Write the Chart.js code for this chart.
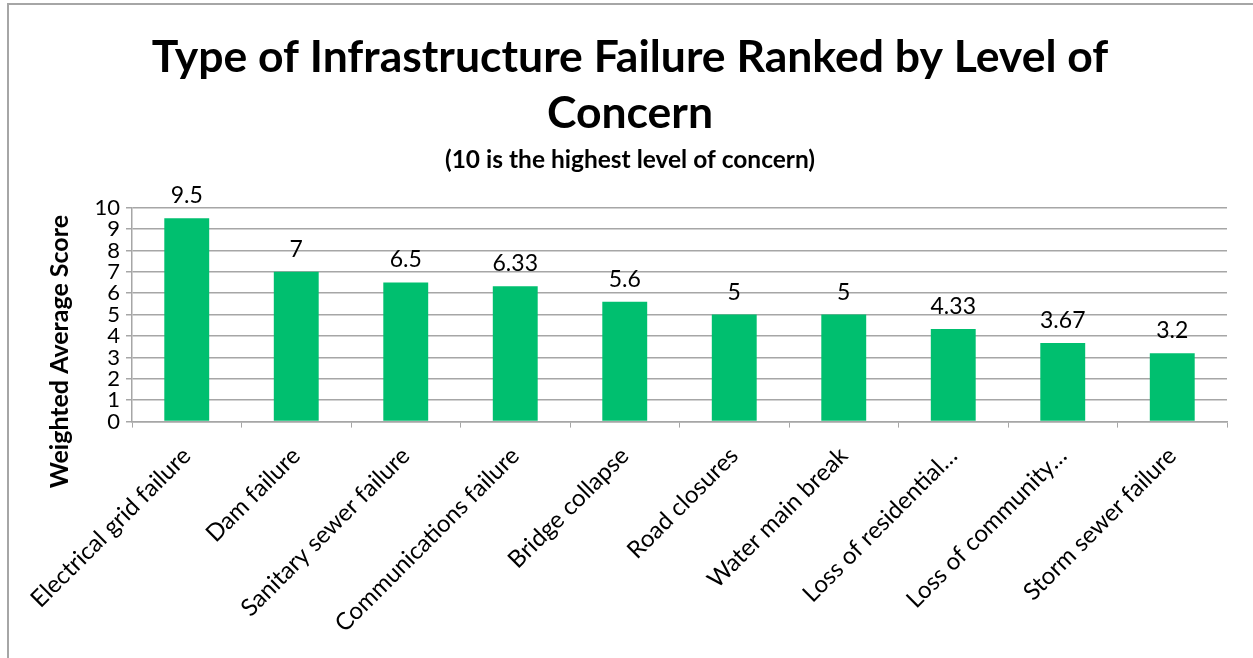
<!DOCTYPE html>
<html>
<head>
<meta charset="utf-8">
<script src="https://cdn.jsdelivr.net/npm/chart.js@4/dist/chart.umd.min.js"></script>
<style>
  body { margin: 0; background: #fff; }
  #caja {
    position: absolute; left: 7px; top: 3px; width: 1246px; height: 655px;
    border-left: 2px solid #a6a6a6; border-top: 2px solid #a6a6a6;
  }
</style>
</head>
<body>
<div id="caja"><canvas id="grafico"></canvas></div>
<script>
// datos
const categorias = ['Electrical grid failure', 'Dam failure', 'Sanitary sewer failure', 'Communications failure',
  'Bridge collapse', 'Road closures', 'Water main break', 'Loss of residential…', 'Loss of community…', 'Storm sewer failure'];
const puntajes = [9.5, 7, 6.5, 6.33, 5.6, 5, 5, 4.33, 3.67, 3.2];
const etiquetasY = [0, 1, 2, 3, 4, 5, 6, 7, 8, 9, 10];
const tituloY = 'Weighted Average Score';

const fuente = 'Lato, "Open Sans", sans-serif';

// escribe el valor encima de cada barra
const etiquetasBarras = {
    id: 'etiquetasBarras',
    afterDatasetsDraw(chart) {
        const ctx = chart.ctx;
        const meta = chart.getDatasetMeta(0);
        ctx.save();
        ctx.font = '23px ' + fuente;
        ctx.fillStyle = '#000';
        ctx.textAlign = 'center';
        ctx.textBaseline = 'bottom';
        meta.data.forEach((barra, i) => {
            ctx.fillText(String(puntajes[i]), barra.x, barra.y - 11);
        });
        ctx.restore();
    }
};

// titulo del eje Y, un poco mas abajo que el centro (como en Excel)
const tituloEjeY = {
    id: 'tituloEjeY',
    afterDraw(chart) {
        const ctx = chart.ctx;
        const area = chart.chartArea;
        ctx.save();
        ctx.translate(51, (area.top + area.bottom) / 2 + 37);
        ctx.rotate(-Math.PI / 2);
        ctx.font = 'bold 25px ' + fuente;
        ctx.fillStyle = '#000';
        ctx.textAlign = 'center';
        ctx.textBaseline = 'middle';
        ctx.fillText(tituloY, 0, 0);
        ctx.restore();
    }
};

const ctx = document.getElementById('grafico').getContext('2d');
const grafico = new Chart(ctx, {
    type: 'bar',
    data: {
        labels: categorias,
        datasets: [{
            data: puntajes,
            backgroundColor: '#00BF6F',
            barPercentage: 0.41,
            categoryPercentage: 1
        }]
    },
    options: {
        responsive: true,
        maintainAspectRatio: false,
        animation: false,
        layout: { padding: { left: 24, right: 28, top: 10, bottom: 8 } },
        plugins: {
            legend: { display: false },
            tooltip: { enabled: false },
            title: {
                display: true,
                text: ['Type of Infrastructure Failure Ranked by Level of', 'Concern'],
                color: '#000',
                font: { family: fuente, size: 44.5, weight: 'bold', lineHeight: 1.25 },
                padding: { top: 15, bottom: 0 }
            },
            subtitle: {
                display: true,
                text: '(10 is the highest level of concern)',
                color: '#000',
                font: { family: fuente, size: 24.5, weight: 'bold' },
                padding: { top: 4, bottom: 33 }
            }
        },
        scales: {
            x: {
                grid: { display: true, drawOnChartArea: false, offset: true, color: '#a6a6a6', tickLength: 6 },
                border: { color: '#a6a6a6', width: 1.5 },
                ticks: {
                    color: '#000', font: { family: fuente, size: 24 },
                    minRotation: 45, maxRotation: 45, autoSkip: false, padding: 14
                }
            },
            y: {
                min: 0, max: 10,
                afterBuildTicks(axis) { axis.ticks = etiquetasY.map(v => ({ value: v })); },
                afterFit(axis) { axis.width = 99; }, // deja sitio para el titulo del eje
                grid: { color: '#a6a6a6', lineWidth: 1.5, tickLength: 6 },
                border: { color: '#a6a6a6', width: 1.5 },
                ticks: { color: '#000', font: { family: fuente, size: 22 }, padding: 6, autoSkip: false }
            }
        }
    },
    plugins: [etiquetasBarras, tituloEjeY]
});
</script>
</body>
</html>
